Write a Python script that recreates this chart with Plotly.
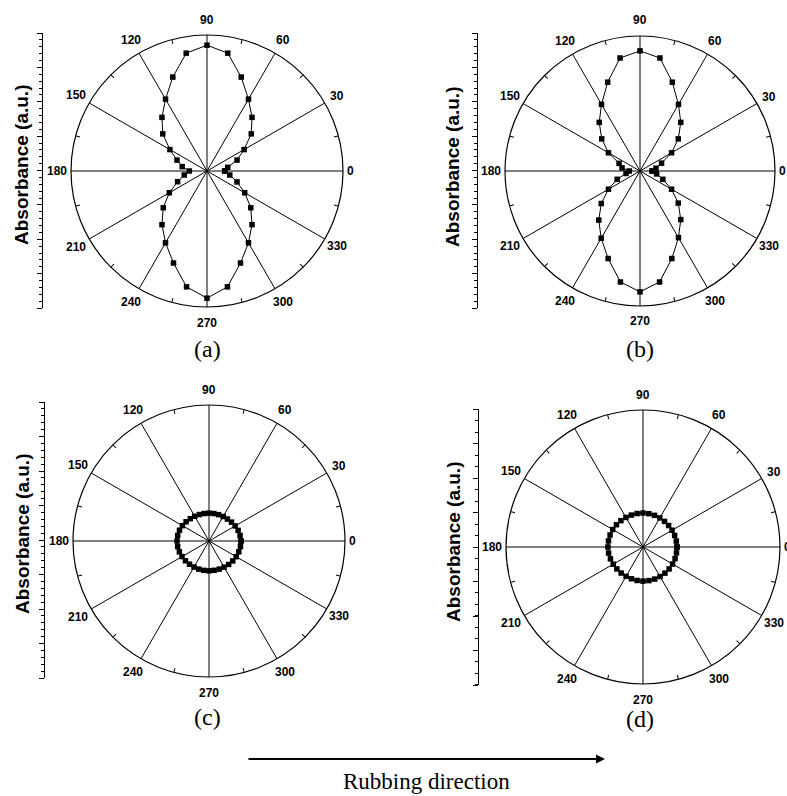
import math
import plotly.graph_objects as go

OFF = 0
W, H = 787, 796

# ---------------- data ----------------
angles = list(range(0, 360, 10))
abs_a = [0.13, 0.155, 0.235, 0.315, 0.425, 0.515, 0.61, 0.735, 0.88, 0.925,
         0.88, 0.735, 0.61, 0.515, 0.425, 0.315, 0.235, 0.185,
         0.13, 0.17, 0.23, 0.32, 0.42, 0.515, 0.61, 0.72, 0.865, 0.935,
         0.865, 0.72, 0.61, 0.515, 0.42, 0.32, 0.235, 0.17]
abs_b = [0.09, 0.12, 0.17, 0.27, 0.37, 0.47, 0.57, 0.70, 0.85, 0.89,
         0.85, 0.70, 0.57, 0.47, 0.37, 0.27, 0.165, 0.135,
         0.08, 0.105, 0.18, 0.27, 0.375, 0.475, 0.575, 0.69, 0.835, 0.895,
         0.835, 0.69, 0.57, 0.47, 0.37, 0.27, 0.18, 0.125]
abs_c = [0.235, 0.232, 0.228, 0.222, 0.216, 0.211, 0.208, 0.206, 0.205, 0.205,
         0.205, 0.207, 0.210, 0.214, 0.220, 0.226, 0.231, 0.234,
         0.235, 0.234, 0.232, 0.229, 0.226, 0.223, 0.221, 0.220, 0.219, 0.219,
         0.219, 0.220, 0.222, 0.225, 0.228, 0.231, 0.233, 0.235]
abs_d = [0.248, 0.247, 0.246, 0.245, 0.244, 0.244, 0.245, 0.246, 0.247, 0.248,
         0.248, 0.248, 0.249, 0.251, 0.253, 0.255, 0.256, 0.256,
         0.256, 0.255, 0.253, 0.251, 0.249, 0.248, 0.247, 0.247, 0.248, 0.249,
         0.249, 0.249, 0.249, 0.249, 0.249, 0.249, 0.249, 0.248]
angle_ticks = list(range(0, 360, 30))
minor_angle_ticks = list(range(15, 360, 30))
panel_labels = ["(a)", "(b)", "(c)", "(d)"]
y_title = "Absorbance (a.u.)"
arrow_text = "Rubbing direction"

series = [abs_a, abs_b, abs_c, abs_d]

# ---------------- layout geometry (window pixels) ----------------
panels = [
    dict(cx=207, cy=171, R=136, ax_x=43, y0=33, y1=308, tx=22, ty=165, lx=207, ly=349, minor=0.05),
    dict(cx=640, cy=171, R=135, ax_x=478, y0=33, y1=308, tx=452, ty=167, lx=640, ly=349, minor=0.05),
    dict(cx=209, cy=541, R=136, ax_x=45, y0=402, y1=678, tx=22, ty=534, lx=207, ly=717, minor=0.05),
    dict(cx=643, cy=547, R=137, ax_x=479, y0=409, y1=685, tx=453, ty=542, lx=640, ly=719, minor=0.0833),
]
# distance (px) from circle to the centre of each angular label
label_pad = {0: 7.5, 180: 14, 30: 14, 330: 14.5}
default_pad = 15.5


def px(x):
    return (x - OFF) / W


def py(y):
    return 1 - (y - OFF) / H


fig = go.Figure()
layout = dict(width=W, height=H, margin=dict(l=0, r=0, t=0, b=0),
              paper_bgcolor="white", plot_bgcolor="white", showlegend=False)
annotations = []
tickfont = dict(family="Liberation Sans, Arial", size=12, color="black", weight="bold")

for i, (p, vals) in enumerate(zip(panels, series)):
    k = i + 1
    main = f"polar{2*k-1}"
    over = f"polar{2*k}"
    dom = dict(x=[px(p["cx"] - p["R"]), px(p["cx"] + p["R"])],
               y=[py(p["cy"] + p["R"]), py(p["cy"] - p["R"])])
    small = i >= 2
    fig.add_trace(go.Scatterpolar(
        r=vals + [vals[0]], theta=angles + [angles[0]],
        mode="lines+markers",
        line=dict(color="black", width=1.6 if small else 1),
        marker=dict(symbol="square", size=5.5, color="black"),
        subplot=main, hoverinfo="skip"))
    fig.add_trace(go.Scatterpolar(r=[0], theta=[0], mode="markers",
                                  marker=dict(size=0.1, opacity=0),
                                  subplot=over, hoverinfo="skip"))
    layout[main] = dict(
        domain=dom, bgcolor="rgba(0,0,0,0)",
        radialaxis=dict(range=[0, 1], visible=False, showgrid=False),
        angularaxis=dict(tickmode="array", tickvals=angle_ticks,
                         rotation=0, direction="counterclockwise",
                         showgrid=True, gridcolor="black", gridwidth=1,
                         showline=True, linecolor="black", linewidth=1.2,
                         ticks="", showticklabels=False),
    )
    layout[over] = dict(
        domain=dom, bgcolor="rgba(0,0,0,0)",
        radialaxis=dict(range=[0, 1], visible=False, showgrid=False),
        angularaxis=dict(tickmode="array", tickvals=minor_angle_ticks,
                         rotation=0, direction="counterclockwise",
                         showgrid=False, showline=False, showticklabels=False,
                         ticks="inside", ticklen=4, tickcolor="black", tickwidth=1),
    )
    # angular labels
    for a in angle_ticks:
        rr = p["R"] + label_pad.get(a, default_pad)
        lx = p["cx"] + rr * math.cos(math.radians(a))
        ly = p["cy"] - rr * math.sin(math.radians(a))
        annotations.append(dict(text=str(a), x=px(lx), y=py(ly), xref="paper", yref="paper",
                                showarrow=False, xanchor="center", yanchor="middle",
                                font=tickfont))
    # left "Absorbance" axis
    xa = "xaxis" if k == 1 else f"xaxis{k}"
    ya = "yaxis" if k == 1 else f"yaxis{k}"
    xr = "x" if k == 1 else f"x{k}"
    yr = "y" if k == 1 else f"y{k}"
    fig.add_trace(go.Scatter(x=[None], y=[None], xaxis=xr, yaxis=yr, hoverinfo="skip"))
    layout[xa] = dict(domain=[px(p["ax_x"]), px(p["ax_x"] + 2)], anchor=yr,
                      visible=False, range=[0, 1])
    layout[ya] = dict(domain=[py(p["y1"]), py(p["y0"])], anchor=xr, range=[-1, 1],
                      showline=True, linecolor="black", linewidth=1.2,
                      ticks="outside", ticklen=5, tickcolor="black", tickwidth=1,
                      dtick=0.25, tick0=-1, showticklabels=False, showgrid=False,
                      zeroline=False,
                      minor=dict(ticks="outside", ticklen=3, dtick=p["minor"],
                                 tickcolor="black", showgrid=False))
    annotations.append(dict(text=y_title, x=px(p["tx"]), y=py(p["ty"]),
                            xref="paper", yref="paper", showarrow=False, textangle=-90,
                            font=dict(family="Liberation Sans, Arial", size=19,
                                      color="black", weight="bold"),
                            xanchor="center", yanchor="middle"))
    annotations.append(dict(text=panel_labels[i], x=px(p["lx"]), y=py(p["ly"]),
                            xref="paper", yref="paper", showarrow=False,
                            font=dict(family="Liberation Serif, Times New Roman", size=24,
                                      color="black"),
                            xanchor="center", yanchor="middle"))

# rubbing direction arrow
annotations.append(dict(x=px(605), y=py(759), xref="paper", yref="paper",
                        ax=-358, ay=0, axref="pixel", ayref="pixel", text="",
                        showarrow=True, arrowhead=2, arrowsize=1, arrowwidth=1.8,
                        arrowcolor="black"))
annotations.append(dict(text=arrow_text, x=px(427), y=py(781), xref="paper", yref="paper",
                        showarrow=False, xanchor="center", yanchor="middle",
                        font=dict(family="Liberation Serif, Times New Roman", size=23,
                                  color="black")))

layout["annotations"] = annotations
fig.update_layout(**layout)
fig.write_html("out.html",
               config={"displayModeBar": False},
               post_script="document.body.style.margin='0px';"
                           "document.body.style.overflow='hidden';")
